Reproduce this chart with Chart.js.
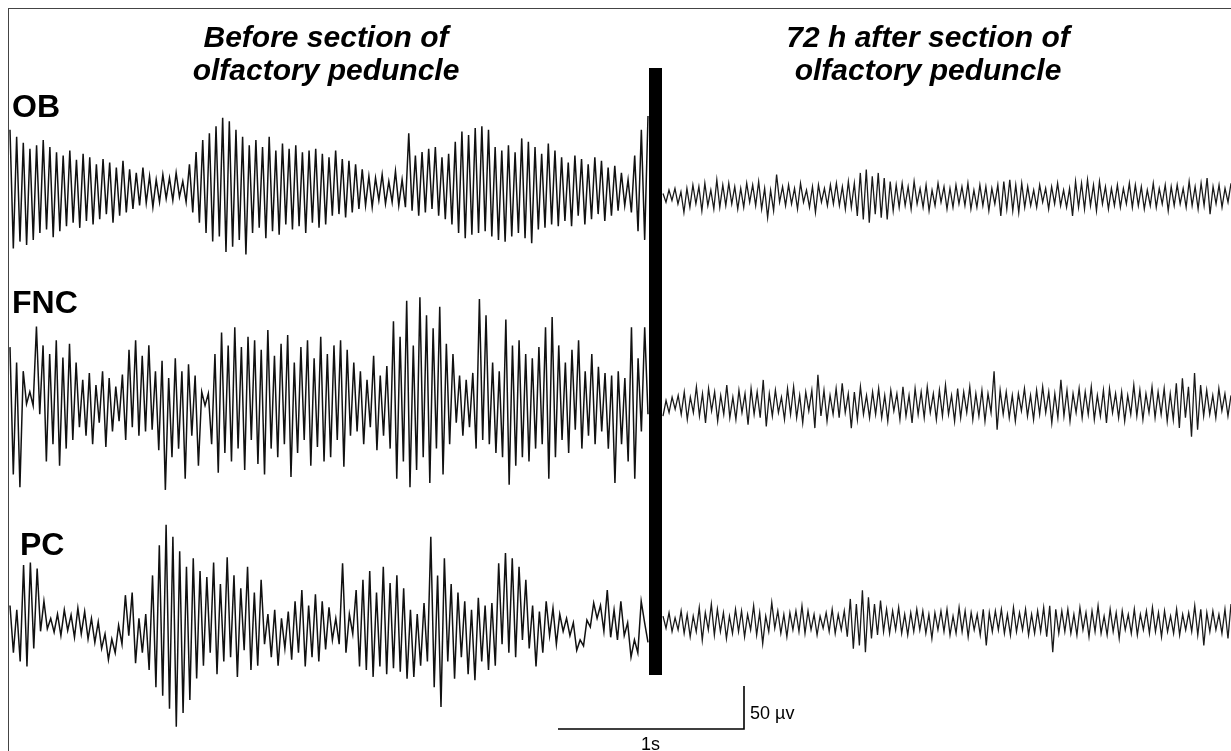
<!DOCTYPE html>
<html>
<head>
<meta charset="utf-8">
<title>OB / FNC / PC recordings</title>
<script src="https://cdn.jsdelivr.net/npm/chart.js@4.4.1/dist/chart.umd.min.js"></script>
<style>
  html, body { margin: 0; padding: 0; background: #fff; }
  #wrap { position: relative; width: 1231px; height: 751px; overflow: hidden; font-family: "Liberation Sans", Arial, sans-serif; color: #000; }
  #frame { position: absolute; left: 8px; top: 8px; width: 1240px; height: 760px; border-left: 1.5px solid #444; border-top: 1.5px solid #444; }
  canvas { position: absolute; left: 0; top: 0; }
  .title { position: absolute; width: 520px; text-align: center; font-weight: bold; font-style: italic; font-size: 30px; line-height: 33px; }
  .lead { position: absolute; left: 12px; font-weight: bold; font-size: 32px; line-height: 32px; }
  .scale { position: absolute; font-size: 18px; line-height: 18px; }
</style>
</head>
<body>
<div id="wrap">
  <div id="frame"></div>
  <canvas id="eeg" width="1231" height="751"></canvas>
  <div class="title" style="left:66px; top:20px;">Before section of<br>olfactory peduncle</div>
  <div class="title" style="left:668px; top:20px;">72 h after section of<br>olfactory peduncle</div>
  <div class="lead" style="top:90px;">OB</div>
  <div class="lead" style="top:286px;">FNC</div>
  <div class="lead" style="top:528px; left:20px;">PC</div>
  <div class="scale" style="left:750px; top:704px;">50 µv</div>
  <div class="scale" style="left:641px; top:735px;">1s</div>
</div>
<script>
// traces in µV, evenly sampled over each recording window
const obBefore = [
  70, -68, 62,
  -60, 55, -64, 48, -58, 52, -50, 58, -46, 50, -55, 44,
  -48, 40, -42, 46, -38, 35, -44, 42, -36, 38, -40, 30, -34, 36, -28, 32, -38, 26, -30, 34, -26,
  24, -22, 20, -18, 26, -15, 16, -20, 12, -14, 18, -10, 14, -12, 20, -8, 10, -14,
  30, -26, 44, -38, 58, -50, 66, -60, 74, -54, 84, -72, 80, -66, 70, -58, 62, -75,
  52, -50, 58, -44, 50, -56, 62, -48, 46, -52, 54, -40, 48, -46, 52, -42, 44, -50, 46, -38, 48, -44, 42, -40,
  38, -30, 46, -28, 36, -32, 34, -26, 30,
  -22, 24, -18, 16, -20, 14, -12, 18, -16, 10, -14, 22, -18, 12, -20,
  66, -24, 40, -30, 44, -26, 48, -22, 50, -30, 38, -34, 42, -40,
  56, -50, 68, -56, 64, -52, 72, -50, 74, -48, 70, -54, 50, -58,
  46, -60, 52, -54, 44, -50, 60, -56, 56, -62, 50, -46, 42, -44, 54, -40, 46, -42,
  38, -36, 32, -42, 40, -30, 36, -40, 30, -34, 38, -28, 34, -36, 26, -30, 28, -24, 20, -18, 12,
  -26, 40, -48, 70, -58, 86
];
const obAfter = [
  4, -6, 8, -4, 10, -8,
  6, -18, 10, -12, 14, -8, 12, -16, 16, -10, 8, -14, 20, -12,
  14, -10, 16, -8, 12, -14, 10, -12, 16, -6, 14, -10, 18, -14, 10,
  -24, 8, -16, 26, -6,
  12, -10, 14, -8, 10, -14, 16, -6, 8, -12, 12, -18, 14, -6, 10, -10, 14, -8, 16, -10, 12, -14, 18, -12,
  16, -22, 28, -26, 32, -30, 24, -20, 28, -24, 22, -26, 18, -16,
  14, -12, 16, -10, 12, -14, 18, -8, 10, -12, 14, -16, 8, -10, 16, -6, 12, -14,
  10, -12, 14, -8, 12, -10, 16, -14, 8, -12, 14, -10, 12, -16, 10, -8, 14,
  -22, 18, -14, 20, -16, 14, -18, 16, -12,
  12, -10, 8, -12, 14, -6, 10, -14, 12, -8, 16, -10, 8, -12, 10,
  -22, 18, -12, 16, -14, 20, -10, 14, -16, 18, -8, 12, -14, 10,
  -10, 14, -12, 10, -8, 16, -12, 14, -10, 12, -14, 8, -10, 16, -12, 10, -8, 14, -16, 12, -10, 14, -8, 10, -12, 18, -10, 12, -14, 16,
  -10, 22, -20, 12, -8, 14, -12, 10, -6, 16
];
const fncBefore = [
  58, -90, 40, -105, 30,
  -8, 6, -10,
  82, -20,
  60, -75, 50, -55, 66, -80, 46, -60, 62, -50, 40,
  -35, 20, -45, 28, -55, 14, -30, 30, -58, 22, -40, 12, -28, 26, -50,
  55, -35, 66, -45, 48, -40, 60, -38,
  30, -62, 42, -108, 22, -70,
  45, -60, 30, -95, 38, -45, 25, -80,
  6, -10, 4,
  -55, 50, -88, 75, -65, 60, -75, 81, -60, 58, -85, 70, -50, 66, -78,
  55, -90, 78, -60, 48, -70, 62, -55, 72, -93, 40, -65, 58, -50, 66, -80, 45, -58, 70, -75, 50,
  -70, 60, -50, 66, -81, 55, -45, 40,
  -40, 30, -55, 20, -35, 48, -62, 25, -45, 36,
  -60, 88, -95, 70, -75, 112, -105, 60, -85, 116, -70, 95, -100, 80, -60, 105, -90, 62, -55, 50,
  -30, 25, -45, 20, -35, 28,
  -60, 114, -50, 95,
  -55, 40, -65, 30, -70, 90, -102, 60,
  -80, 66, -70, 50, -75, 45, -60, 58,
  -55, 81, -95, 93, -70, 60,
  -50, 40, -65, 55, -38, 66, -60, 30, -45, 50, -55, 35, -40,
  28, -60, 25, -100, 30, -55, 22, -75, 81,
  -95, 45, -40, 81, -20
];
const fncAfter = [
  -14, 4, -10, 8, -6, 10,
  -12, 14, -18, 8, -10, 20, -14, 12, -22, 18, -8, 14, -20, 10, -12, 22, -16, 8, -18, 16, -10, 12, -24, 18, -12, 14, -16, 28,
  -26, 12, -14, 16, -10, 8, -18,
  18, -12, 20, -16, 10, -22, 14, -8, 16, -28, 34,
  -14, 16, -20, 10, -12, 18, -16, 24, -10, 12, -28, 14, -18, 20, -12, 10, -16,
  14, -12, 18, -16, 10, -20, 16, -8, 12, -18, 20, -14, 10, -22, 18, -12, 14, -16, 20, -10,
  12, -18, 16, -14, 22, -12, 10, -20, 18, -16, 14, -10, 20, -18, 12, -14, 16, -20, 12, -10,
  38, -30, 16,
  -12, 14, -16, 10, -20, 12, -8, 18, -14, 10, -18, 16, -12, 20, -10, 14, -22, 12, -16, 28,
  -14, 16, -20, 12, -10, 18, -16, 14, -12, 20, -18, 10, -14, 16, -22, 18, -10, 12,
  -16, 14, -20, 10, -12, 22, -14, 16, -18, 12, -10, 20, -16, 14, -12, 18, -20, 12,
  -18, 24, -28, 30, -16, 20, -38, 36, -30, 22,
  -14, 16, -12, 10, -16, 18, -8, 12, -14, 10
];
const pcBefore = [
  25, -30, 20,
  -40, 72, -46, 75,
  -25, 68, -5,
  30, -2, 10,
  -6, 15, -10, 20, -4, 14, -12, 22, -8, 18, -14, 10, -18, 6,
  -25, -8, -38, -14, -30, 2,
  -20, 37, -10, 40, -42, 10, -30, 15,
  -50, 60, -70, 95, -80, 119, -95, 105, -116, 88, -100, 70, -85, 80, -60, 65,
  -45, 58, -30, 75, -55, 50, -40, 81, -35, 60, -58, 45, -27, 70, -50, 40, -45, 55,
  -20, 15, -35, 20, -45, 10, -25, 18, -38,
  30, -30, 43, -46, 25, -35, 38, -40, 30, -26, 23, -15,
  10, -20, 74, -30, 15, -8,
  43, -46, 55, -50, 65, -58, 40, -46, 70, -55, 51, -48, 60, -52, 45, -60,
  20, -58, 15, -45, 28,
  -40, 105, -70, 60, -93, 80, -40, 50, -60, 40,
  -35, 30, -55, 20, -62, 34, -40, 25, -50, 28, -45,
  74, -20, 86, -30, 80, -35, 70, -15, 55, -25,
  25, -46, 18, -30, 30, -10, 22, -20, 15, -5, 10,
  -10, 5, -27, -15, -22, 8, 0, 28,
  10, 25, -5, 43, -12, 20, -15, 30, -10, 5,
  -35, -15, -30, 30, 5, -18
];
const pcAfter = [
  8, -6, 12, -10, 6, -8,
  14, -12, 10, -16, 8, -10, 18, -20, 12, -8, 22, -14, 16, -10, 12, -18, 8, -12, 16, -10, 14, -16, 10, -8, 20, -14, 12, -24, 8,
  -10, 24, -6, 14, -12, 10, -16, 12, -8, 14, -10, 20,
  -12, 14, -8, 10, -14, 8, -6, 12, -10, 16, -12, 10, -8, 14, -16,
  28, -30, 22, -26, 38, -34, 30, -18,
  22, -14, 26, -10, 16, -12, 14, -8, 18, -12, 10,
  -14, 12, -10, 16, -8, 14, -12, 10, -18, 12, -8, 14, -10, 16, -14, 8, -12, 18, -10, 14, -16, 12, -8, 10, -14, 16, -26,
  12, -10, 14, -8, 16, -12, 10, -14, 18, -10, 12, -8, 16, -14, 10, -12, 14, -10, 18, -16,
  20, -34, 16, -12,
  14, -10, 16, -12, 10, -14, 18, -8, 12, -16, 14, -10, 20, -12, 8, -14, 16, -10, 12, -18, 14, -8, 10, -12, 16, -14, 10, -8, 14, -12, 18, -10, 12, -16, 14, -10, 8, -12, 16, -14, 10, -8, 12,
  -10, 20, -14, 16, -26, 12, -10, 14, -8, 10, -12, 16, -18, 22
];

const scaleSec = 1;   // horizontal calibration bar, s
const scaleUv = 50;   // vertical calibration bar, µV

const W = 1231, H = 751;
const pxPerSec = 186;
const pxPerUv = 43 / 50;
const toT = px => px / pxPerSec;
const toV = py => (H - py) / pxPerUv;

// spread a trace evenly between two x positions, around a baseline
function trace(values, x0, x1, baseY) {
  const t0 = toT(x0), dt = (toT(x1) - t0) / (values.length - 1), base = toV(baseY);
  return values.map((v, i) => ({ x: t0 + i * dt, y: base + v }));
}

const before = { borderColor: '#111', borderWidth: 1.5, pointRadius: 0, tension: 0, fill: false };
const after = { borderColor: '#1a1a1a', borderWidth: 1.3, pointRadius: 0, tension: 0, fill: false };

const barT = toT(655.5);
const corner = { x: toT(744), y: toV(729) };

new Chart(document.getElementById('eeg'), {
  type: 'line',
  data: {
    datasets: [
      { label: 'OB before', data: trace(obBefore, 10, 648, 190), ...before },
      { label: 'OB after', data: trace(obAfter, 663, 1231, 197), ...after },
      { label: 'FNC before', data: trace(fncBefore, 10, 648, 397), ...before },
      { label: 'FNC after', data: trace(fncAfter, 663, 1231, 404), ...after },
      { label: 'PC before', data: trace(pcBefore, 10, 648, 627), ...before },
      { label: 'PC after', data: trace(pcAfter, 663, 1231, 623), ...after },
      { label: 'section', data: [{ x: barT, y: toV(68) }, { x: barT, y: toV(675) }],
        borderColor: '#000', borderWidth: 13, borderCapStyle: 'butt', pointRadius: 0 },
      { label: 'calibration', data: [
          { x: corner.x - scaleSec, y: corner.y },
          { x: corner.x, y: corner.y },
          { x: corner.x, y: corner.y + scaleUv }
        ], borderColor: '#000', borderWidth: 1.6, pointRadius: 0, borderJoinStyle: 'miter' }
    ]
  },
  options: {
    responsive: false,
    animation: false,
    devicePixelRatio: 1,
    layout: { padding: 0 },
    plugins: { legend: { display: false }, tooltip: { enabled: false } },
    scales: {
      x: { type: 'linear', display: false, min: 0, max: W / pxPerSec },
      y: { display: false, min: 0, max: H / pxPerUv }
    }
  }
});
</script>
</body>
</html>
